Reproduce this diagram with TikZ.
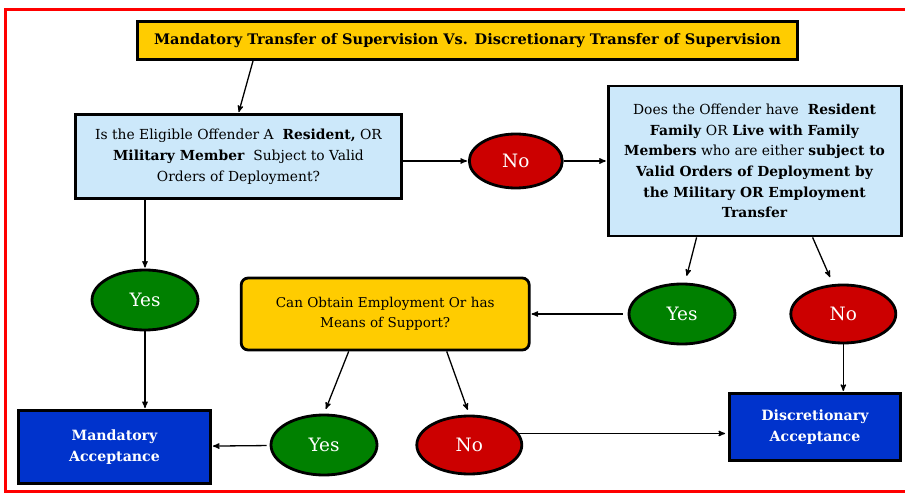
\documentclass[tikz,border=0pt]{standalone}
\usepackage{fontspec}
\setmainfont{DejaVu Serif}
\usetikzlibrary{arrows,positioning,shapes.geometric}

\definecolor{titlegold}{HTML}{FFCC00}
\definecolor{askblue}{HTML}{CCE8FA}
\definecolor{nored}{HTML}{CC0000}
\definecolor{yesgreen}{HTML}{008000}
\definecolor{acceptblue}{HTML}{0033CC}
\definecolor{framered}{HTML}{FF0000}

\tikzset{
  titlebox/.style={draw=black,line width=3bp,fill=titlegold,minimum width=660bp,minimum height=38bp,
    font=\bfseries\fontsize{14.6}{16}\selectfont},
  askbox/.style={draw=black,line width=2.8bp,fill=askblue,align=center,inner sep=2bp},
  answer/.style={ellipse,draw=black,line width=2.8bp,text=white,inner sep=0pt,
    font=\fontsize{18.5}{20}\selectfont},
  yesans/.style={answer,fill=yesgreen,minimum width=106bp,minimum height=60bp},
  noans/.style={answer,fill=nored,minimum width=105bp,minimum height=58bp},
  acceptbox/.style={draw=black,line width=3bp,fill=acceptblue,text=white,align=center,
    font=\bfseries\fontsize{14.2}{21}\selectfont}
}

\begin{document}
\begin{tikzpicture}[x=1bp,y=-1bp,>=stealth',shorten >=1pt,line width=1.3bp]
                \useasboundingbox (0,0) rectangle (905,494);
                \draw[framered,line width=2.6bp] (5.5,9.5) rectangle (915,491.5);

                \node[titlebox] (title) at (467.5,40.5) {Mandatory Transfer of Supervision Vs. Discretionary Transfer of Supervision};

                \node[askbox,minimum width=326bp,minimum height=84bp,font=\fontsize{13.9}{21}\selectfont] (resident) at (238.5,156.5)
                  {Is the Eligible Offender A~ \textbf{Resident,} OR\\ \textbf{Military Member}~ Subject to Valid\\ Orders of Deployment?};
                \node[noans,minimum width=93bp,minimum height=54bp] (no1) [right=65bp of resident,yshift=-4.5bp] {No};
                \node[askbox,minimum width=293bp,minimum height=150bp,font=\fontsize{13.9}{20.8}\selectfont] (family) [right=43bp of no1]
                  {Does the Offender have~ \textbf{Resident}\\ \textbf{Family} OR \textbf{Live with Family}\\
                   \textbf{Members} who are either \textbf{subject to}\\ \textbf{Valid Orders of Deployment by}\\
                   \textbf{the Military OR Employment}\\ \textbf{Transfer}};

                \node[yesans] (yes1) at (145,300) {Yes};
                \node[yesans] (yes2) at (682,314) {Yes};
                \node[noans] (no2) [right=53bp of yes2] {No};
                \node[draw=black,line width=2.8bp,fill=titlegold,rounded corners=7bp,align=center,
                      minimum width=288bp,minimum height=72bp,font=\fontsize{13.6}{20}\selectfont] (support) [left=97bp of yes2]
                  {Can Obtain Employment Or has\\ Means of Support?};

                \node[acceptbox,minimum width=192bp,minimum height=73bp] (mandatory) at (114.5,447) {Mandatory\\ Acceptance};
                \node[yesans] (yes3) at (324,445) {Yes};
                \node[noans] (no3) [right=37bp of yes3] {No};
                \node[acceptbox,minimum width=171bp,minimum height=67bp] (discretionary) at (815,427) {Discretionary\\ Acceptance};

                \path[->] ([xshift=-214.5bp]title.south) edge (resident.north)
                          ([yshift=-4.5bp]resident.east) edge (no1)
                          (no1) edge (family)
                          (resident.south -| yes1) edge (yes1)
                          ([xshift=-58bp]family.south) edge [shorten >=7pt] ([xshift=3bp]yes2.north)
                          ([xshift=58bp]family.south) edge [shorten >=7pt] ([xshift=-10.5bp]no2.north)
                          (yes2) edge [shorten <=5pt] (support)
                          (yes1) edge (yes1 |- mandatory.north)
                          ([xshift=-36.5bp]support.south) edge [shorten >=5pt] (yes3.north)
                          ([xshift=61.5bp]support.south) edge [shorten >=5pt] (no3.north)
                          (yes3) edge [shorten <=3pt] (mandatory)
                          (no3.13) edge [shorten >=3pt] (no3.13 -| discretionary.west)
                          (no2) edge (no2 |- discretionary.north);
            \end{tikzpicture}
\end{document}
